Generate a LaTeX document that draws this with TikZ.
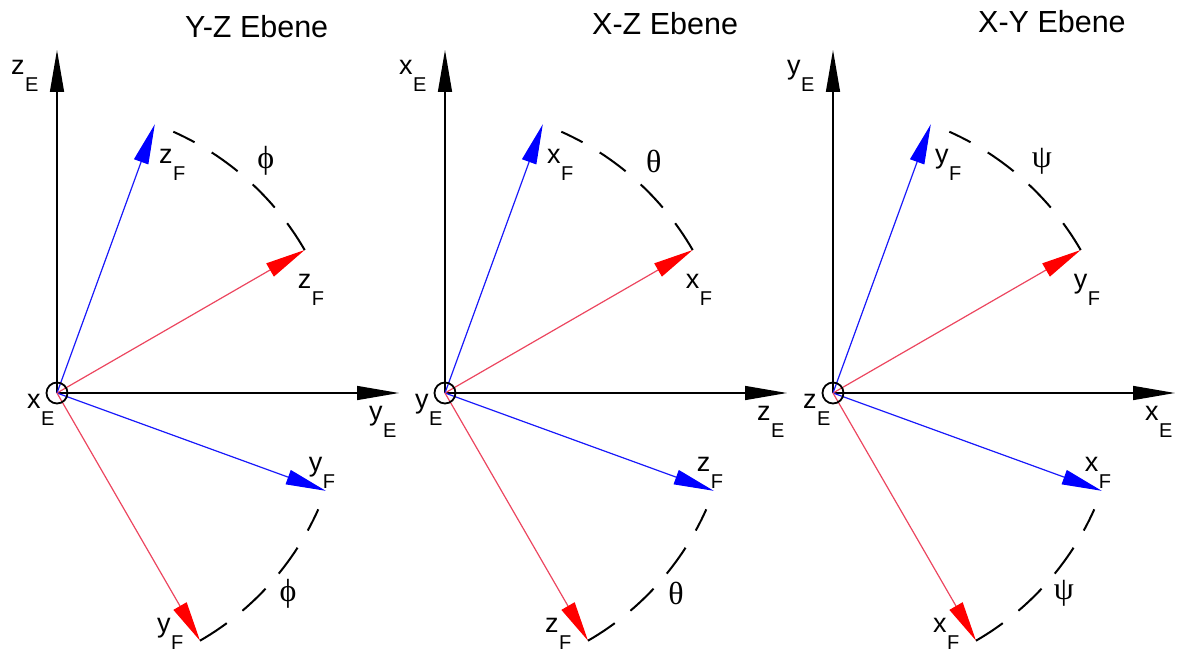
\documentclass[tikz,border=0pt]{standalone}
\usepackage{fontspec}
\setmainfont{Liberation Sans}
\newfontfamily\grk{Liberation Serif}
\usepackage{tikz}
\usetikzlibrary{arrows.meta, positioning}

\definecolor{vecred}{RGB}{236,70,95}
\definecolor{vecblue}{RGB}{25,25,250}

\newcommand{\ax}[2]{{\fontsize{27}{27}\selectfont #1}\hspace{0.5pt}\raisebox{-17pt}{\fontsize{20}{20}\selectfont #2}}

\begin{document}
\begin{tikzpicture}[x=1pt, y=1pt,
        axis/.style={draw=black, line width=1.5pt, -{Triangle[length=42pt,width=14pt]}},
        bvec/.style={draw=vecblue, line width=1.2pt, -{Triangle[length=40pt,width=15pt,color=blue]}},
        rvec/.style={draw=vecred, line width=1.2pt, -{Triangle[length=40pt,width=15pt,color=red]}},
        angarc/.style={draw=black, line width=2pt, dash pattern=on 32pt off 20pt},
        lbl/.style={inner sep=0pt, anchor=base west},
        ang/.style={inner sep=0pt, font=\grk\fontsize{32}{32}\selectfont},
        orig/.style={circle, draw=black, line width=1.8pt, minimum size=21pt, inner sep=0pt},
        ttl/.style={inner sep=0pt, anchor=base west, font=\fontsize{30.5}{31}\selectfont}]
        \useasboundingbox (0,0) rectangle (1178,-655);
%
        \foreach \i/\px/\tx/\ty/\va/\ha/\oa/\up/\dn/\sym/\name in {
            1/57/128/355/z/y/x/z/y/ϕ/Y-Z Ebene,
            2/445/147/358/x/z/y/x/z/θ/X-Z Ebene,
            3/833/145/360/y/x/z/y/x/ψ/X-Y Ebene}
        {
        \begin{scope}[shift={(\px,-393)}]
        \coordinate (o\i) at (0,0);
        \coordinate (vt\i) at (90:343);
        \coordinate (ht\i) at (0:342);
        \coordinate (bu\i) at (70:286);
        \coordinate (ru\i) at (30:286);
        \coordinate (bd\i) at (-20:286);
        \coordinate (rd\i) at (-60:286);
%
        \draw[axis] (o\i) -- (vt\i);
        \draw[axis] (o\i) -- (ht\i);
        \draw[bvec] (o\i) -- (bu\i);
        \draw[rvec] (o\i) -- (ru\i);
        \draw[bvec] (o\i) -- (bd\i);
        \draw[rvec] (o\i) -- (rd\i);
        \draw[angarc] (ru\i) arc[start angle=30, end angle=66, radius=286];
        \draw[angarc] (rd\i) arc[start angle=-60, end angle=-24, radius=286];
        \node[orig] (c\i) at (o\i) {};
%
        \node[ttl] (t\i) at (\tx,\ty) {\name};
        \node[lbl] (lv\i) at ([shift={(-46,-25)}]vt\i) {\ax{\va}{E}};
        \node[lbl] (lh\i) at ([shift={(-30,-27)}]ht\i) {\ax{\ha}{E}};
        \node[lbl] (lo\i) at ([shift={(-30,-15)}]o\i) {\ax{\oa}{E}};
        \node[lbl] (lbu\i) at ([shift={(4,-39)}]bu\i) {\ax{\up}{F}};
        \node[lbl] (lru\i) at ([shift={(-7,-38)}]ru\i) {\ax{\up}{F}};
        \node[lbl] (lbd\i) at ([shift={(-17,19)}]bd\i) {\ax{\dn}{F}};
        \node[lbl] (lrd\i) at ([shift={(-43,8)}]rd\i) {\ax{\dn}{F}};
        \node[ang] (au\i) at (48:312) {\sym};
        \node[ang] (ad\i) at (-41:306) {\sym};
        \end{scope}
        }
\end{tikzpicture}
\end{document}
